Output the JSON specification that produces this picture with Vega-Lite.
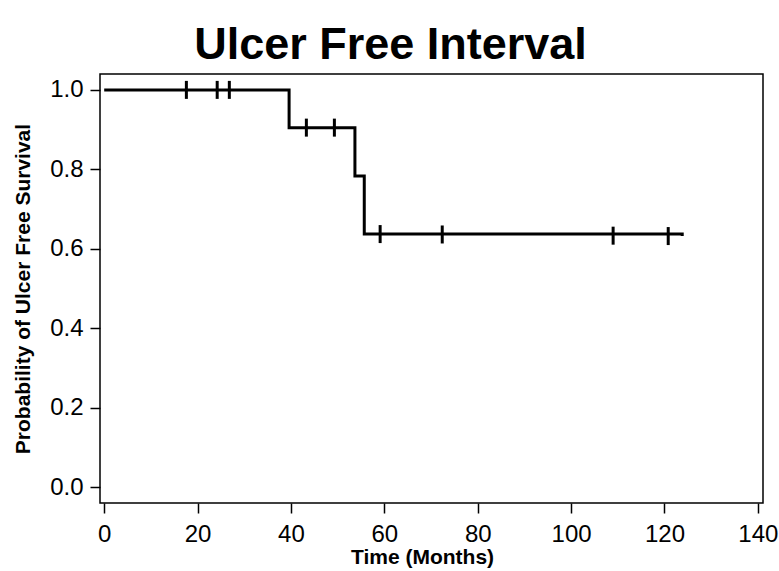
{
  "$schema": "https://vega.github.io/schema/vega-lite/v6.json",
  "width": 663,
  "height": 429,
  "autosize": {"type": "none"},
  "padding": {"left": 100, "top": 74, "right": 16, "bottom": 68},
  "background": "white",
  "title": {
    "text": "Ulcer Free Interval",
    "font": "Liberation Sans",
    "fontSize": 45,
    "fontWeight": "bold",
    "color": "black",
    "anchor": "middle",
    "baseline": "alphabetic",
    "dx": -41,
    "offset": -30
  },
  "datasets": {
    "curve": [
      {"time": 0, "surv": 1.0},
      {"time": 39.6, "surv": 0.905},
      {"time": 53.7, "surv": 0.783},
      {"time": 55.7, "surv": 0.637},
      {"time": 123.8, "surv": 0.632}
    ],
    "censor": [
      {"time": 17.6, "surv": 1.0},
      {"time": 24.2, "surv": 1.0},
      {"time": 26.8, "surv": 1.0},
      {"time": 43.3, "surv": 0.905},
      {"time": 49.3, "surv": 0.905},
      {"time": 59.1, "surv": 0.637},
      {"time": 72.4, "surv": 0.636},
      {"time": 109.0, "surv": 0.633},
      {"time": 120.8, "surv": 0.632}
    ]
  },
  "layer": [
    {
      "data": {"name": "curve"},
      "mark": {"type": "line", "interpolate": "step-after", "color": "black", "strokeWidth": 3},
      "encoding": {
        "x": {
          "field": "time", "type": "quantitative",
          "scale": {"domain": [-0.9, 141.1], "nice": false, "zero": false},
          "axis": {"values": [0, 20, 40, 60, 80, 100, 120, 140], "title": "Time (Months)", "titlePadding": 0, "titleX": 322, "labelPadding": 9, "titleFontSize": 21}
        },
        "y": {
          "field": "surv", "type": "quantitative",
          "scale": {"domain": [-0.04, 1.04], "nice": false, "zero": false},
          "axis": {"values": [0, 0.2, 0.4, 0.6, 0.8, 1.0], "format": ".1f", "title": "Probability of Ulcer Free Survival", "titlePadding": 16, "labelPadding": 7, "titleFontSize": 21}
        }
      }
    },
    {
      "data": {"name": "censor"},
      "mark": {"type": "tick", "orient": "vertical", "size": 18, "thickness": 3, "color": "black", "opacity": 1},
      "encoding": {
        "x": {"field": "time", "type": "quantitative"},
        "y": {"field": "surv", "type": "quantitative"}
      }
    }
  ],
  "config": {
    "view": {"stroke": "black", "strokeWidth": 1.5},
    "axis": {
      "grid": false,
      "domain": false,
      "labelFont": "Liberation Sans",
      "labelFontSize": 24,
      "labelColor": "black",
      "tickColor": "black",
      "tickSize": 10,
      "tickWidth": 1.5,
      "titleFont": "Liberation Sans",
      "titleFontSize": 20,
      "titleFontWeight": "bold",
      "titleColor": "black"
    }
  }
}
